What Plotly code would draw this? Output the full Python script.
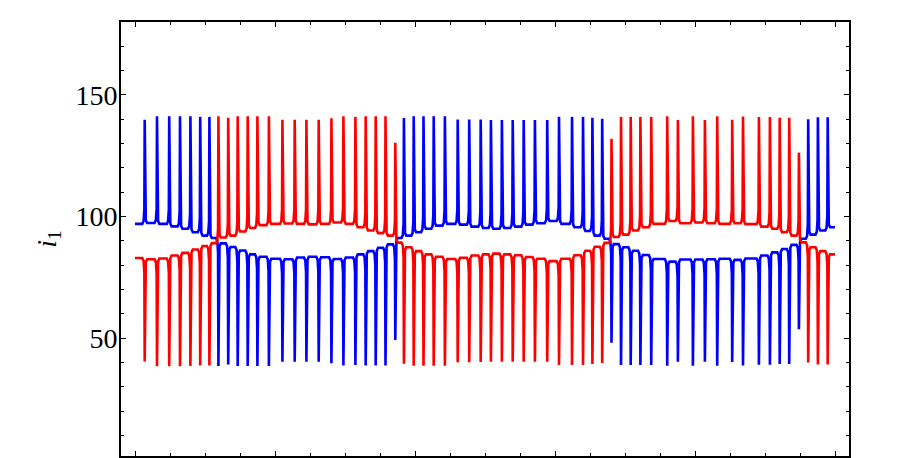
import plotly.graph_objects as go

# ---- data -------------------------------------------------------------
# spike times (x units); both currents spike at the same instants
spike_t = [0.0693, 0.1571, 0.2443, 0.3214, 0.3957, 0.4657, 0.5314,
           0.5958, 0.6658, 0.7335, 0.8050, 0.8742, 0.9564, 1.0529, 1.1407,
           1.2243, 1.3121, 1.4029, 1.4886, 1.5743, 1.6478, 1.7193, 1.7893,
           1.8593,
           1.9208, 1.9908, 2.0607, 2.1336, 2.2135, 2.3050, 2.3872, 2.4692,
           2.5422, 2.6207, 2.6979, 2.7764, 2.8564, 2.9443, 3.0286, 3.1215,
           3.2000, 3.2671, 3.3371,
           3.4036, 3.4715, 3.5407, 3.6100, 3.6872, 3.8014, 3.8778, 3.9850,
           4.0707, 4.1585, 4.2657, 4.3428, 4.4564, 4.5350, 4.6050, 4.6729,
           4.7422,
           4.8085, 4.8778, 4.9478]
t_start = 0.0
t_end = 5.0

# value of each current at the tip of each spike
blue_peak = [139.8, 141.3, 141.3, 141.3, 141.3, 141.0, 141.0,
             38.6, 39.2, 38.6, 38.6, 38.6, 38.6, 40.3, 40.3,
             40.3, 40.3, 39.7, 38.8, 39.0, 38.8, 38.8, 38.8,
             49.3,
             140.5, 141.3, 141.3, 141.3, 141.3, 139.9, 139.9, 139.9,
             139.7, 139.7, 139.7, 139.7, 139.7, 139.7, 141.0, 141.0,
             141.0, 140.6, 140.2,
             48.2, 39.0, 39.0, 39.0, 39.0, 38.7, 40.3, 38.7,
             40.3, 38.7, 40.2, 38.8, 39.1, 39.1, 39.4, 39.4,
             53.7,
             140.0, 140.8, 140.8]
red_peak = [40.4, 38.5, 38.5, 38.5, 38.6, 38.8, 38.8,
            141.3, 140.6, 141.3, 141.3, 141.3, 141.3, 139.8, 139.8,
            139.8, 139.8, 140.4, 141.3, 141.0, 141.3, 141.3, 141.3,
            130.4,
            39.5, 38.7, 38.7, 38.7, 38.7, 40.1, 40.1, 40.2,
            40.3, 40.3, 40.3, 40.3, 40.3, 40.3, 39.0, 39.0,
            39.0, 39.4, 39.8,
            132.0, 141.0, 141.0, 141.0, 141.0, 141.3, 139.7, 141.3,
            139.7, 141.3, 139.8, 141.2, 140.9, 140.9, 140.6, 140.6,
            126.3,
            40.0, 39.2, 39.2]

# level of each current between spikes (before 1st, between, after last)
blue_base = [97.0, 97.4, 97.0, 96.0, 95.0, 93.6, 92.2, 91.2,
             89.0, 87.5, 86.1, 84.5, 83.5, 82.7, 82.5, 83.2,
             83.5, 83.3, 82.6, 83.2, 84.5, 85.8, 87.2, 88.6,
             91.2, 92.2, 93.6, 95.0, 96.3, 97.0, 96.7, 95.9, 95.3, 95.0,
             95.3, 95.9, 96.7, 97.3, 98.2, 97.0, 95.6, 94.1, 92.2, 90.9,
             88.7, 87.4, 86.0, 84.2, 82.6, 81.5, 82.4, 82.4,
             82.5, 82.7, 82.2, 82.8, 84.0, 85.3, 86.7, 88.4,
             90.9, 92.6, 94.3, 95.6]
red_base = [83.0, 82.5, 82.8, 84.0, 85.1, 86.5, 87.9, 89.1,
            91.4, 92.2, 93.9, 95.3, 96.5, 97.0, 97.2, 97.0,
            96.8, 97.0, 97.6, 97.0, 95.6, 94.3, 93.2, 92.2,
            89.3, 87.4, 85.8, 84.5, 83.5, 82.6, 83.1, 84.0, 84.5, 84.8,
            84.5, 84.1, 83.4, 82.7, 81.7, 82.7, 84.1, 86.0, 87.6, 89.2,
            91.6, 92.6, 94.3, 95.6, 97.0, 98.2, 97.3, 97.6,
            97.3, 97.0, 97.3, 96.9, 95.9, 95.0, 93.6, 92.2,
            89.4, 87.4, 85.8, 84.5]

y_tick_step = 50
y_minor_step = 10
x_tick_step = 1
x_minor_step = 0.25


def build(base, peak):
    """Polyline: flat levels between spikes, narrow spikes at spike_t."""
    d = 1.0 / 140.0
    xs = [t_start]
    ys = [base[0]]
    for k, t in enumerate(spike_t):
        b0, b1, p = base[k], base[k + 1], peak[k]
        s = 1 if p > (b0 + b1) / 2 else -1
        xs += [t - 2.4 * d, t - 1.1 * d, t - 0.35 * d, t,
               t + 0.35 * d, t + 1.1 * d, t + 2.4 * d]
        ys += [b0, b0 + s * 1.2, b0 + s * 6, p,
               b1 + s * 6, b1 + s * 1.2, b1]
    xs.append(t_end)
    ys.append(base[-1])
    return xs, ys


bx, by = build(blue_base, blue_peak)
rx, ry = build(red_base, red_peak)

fig = go.Figure()
fig.add_trace(go.Scatter(x=bx, y=by, mode="lines",
                         line=dict(color="#0000FF", width=2.6),
                         showlegend=False, hoverinfo="skip"))
fig.add_trace(go.Scatter(x=rx, y=ry, mode="lines",
                         line=dict(color="#FF0000", width=2.6),
                         showlegend=False, hoverinfo="skip"))

axis_common = dict(showline=True, linecolor="black", linewidth=2,
                   mirror="ticks", ticks="inside", tickcolor="black",
                   tickwidth=1.2, showgrid=False, zeroline=False)

fig.update_xaxes(range=[-0.1, 5.1], dtick=x_tick_step, tick0=0,
                 ticklen=5, showticklabels=False,
                 minor=dict(dtick=x_minor_step, tick0=0, ticks="inside",
                            ticklen=3, tickcolor="black", tickwidth=1.2,
                            showgrid=False),
                 **axis_common)
fig.update_yaxes(range=[1.6, 180.0], dtick=y_tick_step, tick0=0,
                 ticklen=5, ticklabelstandoff=-4,
                 tickfont=dict(family="Liberation Serif", size=28,
                               color="black"),
                 minor=dict(dtick=y_minor_step, tick0=0, ticks="inside",
                            ticklen=3, tickcolor="black", tickwidth=1.2,
                            showgrid=False),
                 title=dict(text="<i>i</i><sub>1</sub>", standoff=11,
                            font=dict(family="Liberation Serif", size=28,
                                      color="black")),
                 **axis_common)

fig.update_layout(width=900, height=458,
                  margin=dict(l=113, r=59, t=14, b=10),
                  paper_bgcolor="white", plot_bgcolor="white")

fig.write_html("out.html")
